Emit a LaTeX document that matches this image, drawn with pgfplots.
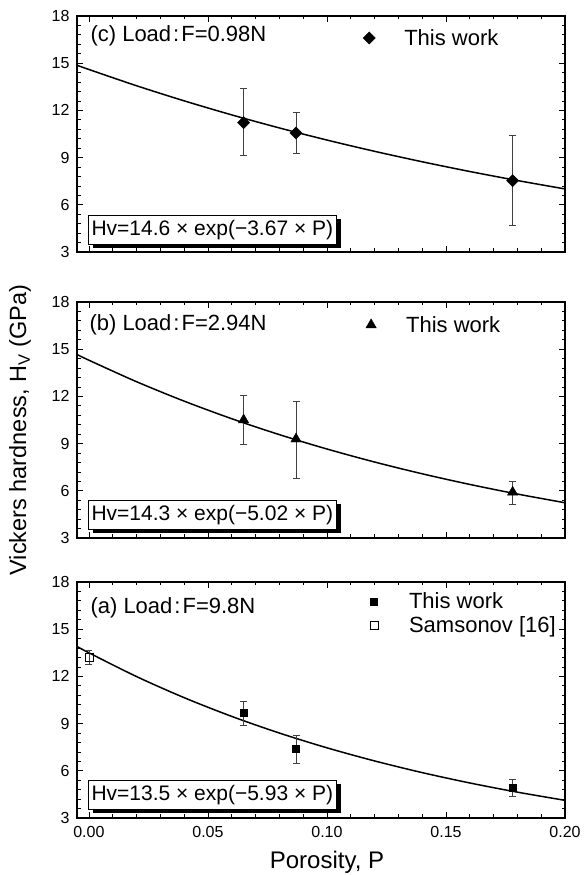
\documentclass[border=0pt]{standalone}
\usepackage{fontspec}
\setmainfont{Liberation Sans}
\usepackage{pgfplots}
\pgfplotsset{compat=1.18}
\usepackage{pgfplotstable}
\usetikzlibrary{shadows}

% measured points: x, y, error up, error down
\pgfplotstableread{
x y ep em
0.065 11.22 2.16 2.08
0.087 10.56 1.34 1.31
0.178 7.53 2.89 2.83
}\dataC
\pgfplotstableread{
x y ep em
0.065 10.50 1.58 1.52
0.087 9.29 2.37 2.49
0.178 5.91 0.68 0.80
}\dataB
\pgfplotstableread{
x y ep em
0.065 9.68 0.75 0.79
0.087 7.39 0.85 0.90
0.178 4.90 0.57 0.54
}\dataA
\pgfplotstableread{
x y ep em
0.000 13.23 0.45 0.46
}\dataS

\pgfplotsset{
  panel/.style={
    scale only axis, width=488pt, height=236pt, anchor=south west,
    xmin=-0.005, xmax=0.2, ymin=3, ymax=18,
    xtick={0,0.05,0.1,0.15,0.2}, ytick={3,6,9,12,15,18},
    minor x tick num=4, minor y tick num=4,
    tick align=inside, major tick length=6pt, minor tick length=3.5pt,
    axis line style={line width=1.1pt},
    every tick/.style={black, line width=0.8pt},
    tick label style={font=\fontsize{16}{18}\selectfont},
    /pgf/number format/assume math mode=true,
    xticklabel style={yshift=-5pt, /pgf/number format/.cd, fixed, fixed zerofill, precision=2},
    yticklabel style={xshift=-4pt},
    legend style={draw=none, fill=none, inner sep=0pt, row sep=6pt,
      nodes={inner sep=0pt}, font=\fontsize{22}{25}\selectfont, anchor=west},
    legend cell align=left,
    legend image code/.code={
      \path[draw=none, fill=none] (-6pt,-6pt) rectangle (35pt,6pt);
      \draw[##1] plot coordinates {(0pt,0pt)};},
  },
  errbar/.style={error bars/.cd, y dir=both, y explicit,
    error bar style={line width=0.6pt, black!75},
    error mark options={rotate=90, mark size=3.5pt, line width=0.6pt, black!75}},
  fit/.style={black, line width=1.5pt, smooth, no marks, forget plot},
}
\tikzset{
  eqbox/.style={draw, fill=white, line width=1pt, inner xsep=3pt, inner ysep=4.5pt, anchor=south west,
    font=\fontsize{21}{23}\selectfont,
    drop shadow={shadow xshift=4.5pt, shadow yshift=-3.5pt, fill=black, opacity=1}},
  lbl/.style={anchor=west, font=\fontsize{22}{24}\selectfont},
}

\begin{document}
\begin{tikzpicture}
\useasboundingbox (0,0) rectangle (585pt,875pt);

% (c) F = 0.98 N
\begin{axis}[panel, at={(77pt,623pt)}, xticklabels={},
  legend style={at={(rel axis cs:0.586,0.907)}}]
\addplot[fit] coordinates {(-0.005,14.870)(0,14.600)(0.02,13.567)(0.04,12.607)(0.06,11.714)(0.08,10.885)(0.10,10.115)(0.12,9.399)(0.14,8.734)(0.16,8.116)(0.18,7.542)(0.20,7.008)};
\addplot[only marks, mark=square*, mark size=4.3pt, mark options={rotate=45, fill=black}, errbar]
  table[x=x, y=y, y error plus=ep, y error minus=em]{\dataC};
\addlegendentry{This work}
\node[lbl, xshift=10pt, yshift=-20pt] at (rel axis cs:0,1) {(c) Load\hspace{2pt}:\hspace{2pt}F=0.98N};
\node[eqbox, xshift=11pt, yshift=7pt] at (rel axis cs:0,0) {Hv=14.6 × exp(−3.67 × P)};
\end{axis}

% (b) F = 2.94 N
\begin{axis}[panel, at={(77pt,337pt)}, xticklabels={},
  legend style={at={(rel axis cs:0.590,0.903)}}]
\addplot[fit] coordinates {(-0.005,14.664)(0,14.300)(0.02,12.934)(0.04,11.699)(0.06,10.581)(0.08,9.570)(0.10,8.656)(0.12,7.829)(0.14,7.081)(0.16,6.405)(0.18,5.793)(0.20,5.240)};
\addplot[only marks, mark=triangle*, mark size=6pt, mark options={fill=black}, errbar]
  table[x=x, y=y, y error plus=ep, y error minus=em]{\dataB};
\addlegendentry{This work}
\node[lbl, xshift=9pt, yshift=-23pt] at (rel axis cs:0,1) {(b) Load\hspace{2pt}:\hspace{2pt}F=2.94N};
\node[eqbox, xshift=11pt, yshift=8pt] at (rel axis cs:0,0) {Hv=14.3 × exp(−5.02 × P)};
\end{axis}

% (a) F = 9.8 N
\begin{axis}[panel, at={(77pt,57pt)},
  legend style={at={(rel axis cs:0.596,0.868)}}]
\addplot[fit] coordinates {(-0.005,13.906)(0,13.500)(0.02,11.990)(0.04,10.649)(0.06,9.458)(0.08,8.400)(0.10,7.461)(0.12,6.627)(0.14,5.885)(0.16,5.227)(0.18,4.643)(0.20,4.123)};
\addplot[only marks, mark=square*, mark size=3.5pt, mark options={fill=black}, errbar]
  table[x=x, y=y, y error plus=ep, y error minus=em]{\dataA};
\addlegendentry{This work}
\addplot[only marks, mark=square, mark size=4pt, mark options={fill=white, line width=0.7pt}, errbar]
  table[x=x, y=y, y error plus=ep, y error minus=em]{\dataS};
\addlegendentry{Samsonov [16]}
\node[lbl, xshift=10pt, yshift=-26pt] at (rel axis cs:0,1) {(a) Load\hspace{2pt}:\hspace{2pt}F=9.8N};
\node[eqbox, xshift=11pt, yshift=8pt] at (rel axis cs:0,0) {Hv=13.5 × exp(−5.93 × P)};
\end{axis}

\node[font=\fontsize{24}{26}\selectfont] at (327pt,13pt) {Porosity, P};
\node[rotate=90, font=\fontsize{23.5}{26}\selectfont] at (20pt,445pt) {Vickers hardness, H\textsubscript{V} (GPa)};
\end{tikzpicture}
\end{document}
